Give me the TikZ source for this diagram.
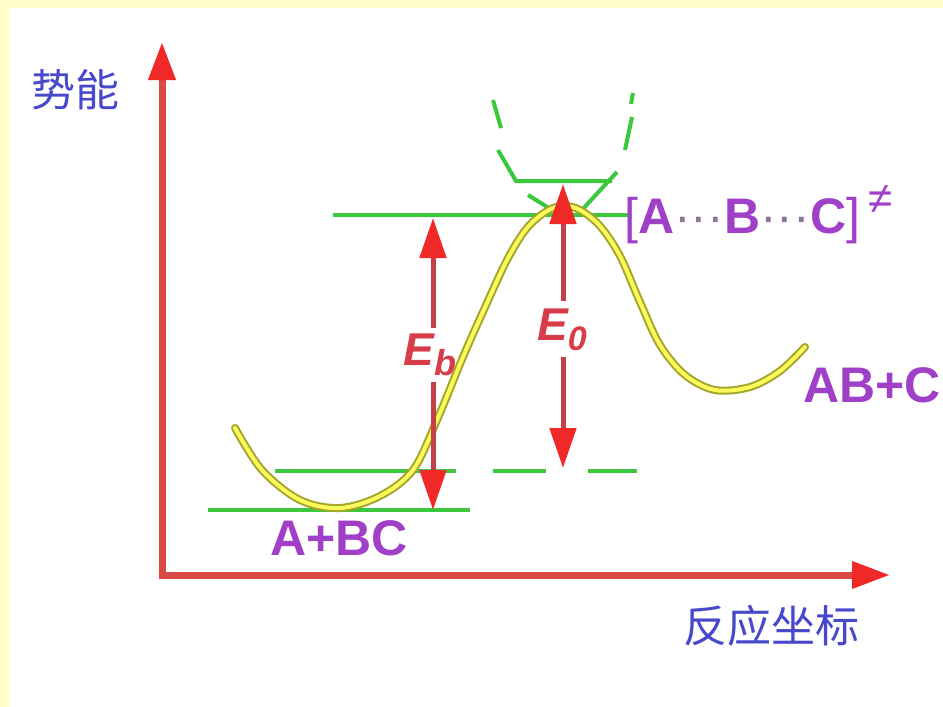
\documentclass[tikz,border=0pt]{standalone}
\usepackage{fontspec}
\setmainfont{Liberation Sans}
\newfontfamily\cjk{Noto Sans CJK SC}
\usepackage{xcolor}
\usetikzlibrary{arrows.meta, positioning}
\definecolor{AxisRed}{RGB}{219, 72, 72}
\definecolor{HeadRed}{RGB}{240, 40, 40}
\definecolor{ShaftRed}{RGB}{196, 64, 72}
\definecolor{LevelGreen}{RGB}{60, 200, 60}
\definecolor{CurveYellow}{RGB}{250, 250, 90}
\definecolor{CurveEdge}{RGB}{165, 165, 45}
\definecolor{LabelPurple}{RGB}{160, 64, 200}
\definecolor{DotGray}{RGB}{140, 120, 150}
\definecolor{LabelBlue}{RGB}{72, 72, 205}
\definecolor{LabelRed}{RGB}{216, 60, 72}
\definecolor{SlideYellow}{RGB}{255, 255, 204}

\tikzset{
  axisline/.style={draw=AxisRed, line width=7pt, -{Triangle[length=38pt, width=26pt, color=HeadRed]}},
  level/.style={draw=LevelGreen, line width=4pt},
  gapline/.style={draw=ShaftRed, line width=5pt, -{Triangle[length=40pt, width=26pt, color=HeadRed]}},
  species/.style={text=LabelPurple, font=\fontsize{50}{54}\selectfont\bfseries, inner sep=0pt},
  axislabel/.style={text=LabelBlue, font=\fontsize{44}{48}\selectfont\cjk, inner sep=0pt},
  energy/.style={text=LabelRed, font=\fontsize{46}{50}\selectfont\bfseries\itshape, inner sep=0pt},
}

\begin{document}
\begin{tikzpicture}[x=1pt, y=-1pt]
  \useasboundingbox (0,0) rectangle (943,707);
  \fill[white] (0,0) rectangle (943,707);
  \fill[SlideYellow] (0,0) rectangle (943,8);
  \fill[SlideYellow] (0,0) rectangle (9,707);

  % axes
  \coordinate (origin) at (162,575);
  \coordinate (ytip) at (162,42);
  \coordinate (xtip) at (890,575);
  \draw[axisline] (origin) -- (ytip);
  \draw[axisline] ([xshift=-3.5pt]origin) -- (xtip);
  \node[axislabel] (ylabel) at (75,90) {势能};
  \node[axislabel] (xlabel) at (771,626) {反应坐标};

  % energy levels
  \draw[level] (333,215) -- (628,215);
  \draw[level] (208,510) -- (470,510);
  \draw[level] (275,471) -- (456,471);
  \draw[level] (493,471) -- (546,471);
  \draw[level] (588,471) -- (637,471);

  % saddle marker above the peak
  \draw[level] (493,100) -- (501,128);
  \draw[level] (498,150) -- (516,181) -- (612,181);
  \draw[level] (617,172) -- (580,212);
  \draw[level] (528,195) -- (552,210);
  \draw[level] (633,93) -- (631,104);
  \draw[level] (632,117) -- (625,150);

  % potential energy curve
  \def\pathpts{(235,428) (262,470) (300,500) (340,508) (380,496) (413,470) (437,420) (463,357) (482,314) (507,260) (527,228) (547,211) (563,206) (580,210) (600,226) (620,256) (640,302) (660,345) (685,375) (715,390) (750,387) (780,371) (805,347)}
  \draw[CurveEdge, line width=8pt, line cap=round] plot[smooth, tension=0.55] coordinates {\pathpts};
  \draw[CurveYellow, line width=4pt, line cap=round] plot[smooth, tension=0.55] coordinates {\pathpts};

  % barrier arrows
  \node[energy] (Eb) at (430,355) {E\raisebox{-0.22em}{\fontsize{36}{36}\selectfont b}};
  \node[energy] (E0) at (562,330) {E\raisebox{-0.22em}{\fontsize{34}{34}\selectfont 0}};
  \coordinate (EbTop) at (433,218);
  \coordinate (EbBot) at (433,510);
  \coordinate (E0Top) at (563,184);
  \coordinate (E0Bot) at (563,468);
  \draw[gapline, shorten <=6pt] ([xshift=3pt]Eb.north) -- (EbTop);
  \draw[gapline, shorten <=6pt] ([xshift=3pt]Eb.south) -- (EbBot);
  \draw[gapline, shorten <=8pt] ([xshift=1pt]E0.north) -- (E0Top);
  \draw[gapline, shorten <=6pt] ([xshift=1pt]E0.south) -- (E0Bot);

  % species
  \node[species] (reac) at (339,538) {A+BC};
  \node[species] (prod) at (872,385) {AB+C};
  \node[species, anchor=west] (ts) at (624,215)
    {{\mdseries[}A{\mdseries\color{DotGray}···}B{\mdseries\color{DotGray}···}C{\mdseries]}\,\raisebox{0.4em}{\fontsize{44}{44}\mdseries\selectfont ≠}};
\end{tikzpicture}
\end{document}
